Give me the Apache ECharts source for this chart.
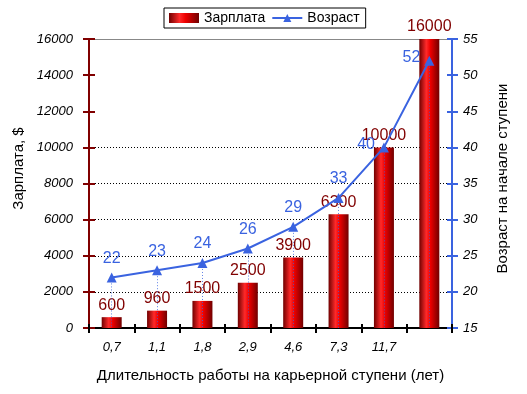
<!DOCTYPE html>
<html><head><meta charset="utf-8">
<script src="https://cdn.jsdelivr.net/npm/echarts@6/dist/echarts.min.js"></script>
<style>html,body{margin:0;padding:0;background:#fff}#c{width:527px;height:394px}</style>
</head><body><div id="c"></div>
<script>
var categories = ['0,7','1,1','1,8','2,9','4,6','7,3','11,7',''];
var salary = [600, 960, 1500, 2500, 3900, 6300, 10000, 16000];
var age = [22, 23, 24, 26, 29, 33, 40, 52];
var salaryName = 'Зарплата';
var ageName = 'Возраст';
var xTitle = 'Длительность работы на карьерной ступени (лет)';
var yLeftTitle = 'Зарплата, $';
var yRightTitle = 'Возраст на начале ступени';

var FONT = 'Liberation Sans, Arial, sans-serif';
var RED = '#800000', BLUE = '#3a63e0';
var T = 'rgba(0,0,0,0)';
var chart = echarts.init(document.getElementById('c'), null, {renderer:'canvas'});
var barGrad = new echarts.graphic.LinearGradient(0,0,1,0,[
  {offset:0,color:'#700000'},{offset:0.35,color:'#ff2a2a'},{offset:0.55,color:'#ee0000'},{offset:1,color:'#700000'}]);
var tickLabel = {fontFamily:FONT, fontStyle:'italic', fontSize:13, color:'#000', formatter:function(v){return String(v);}};
var ageData = age.map(function(v,i){
  var d = {value:v};
  if (i >= categories.length-2) d.label = {position:'left', distance:4, offset:[0,-3]};
  return d;
});
var drops = age.map(function(v,i){ return [{coord:[i,v]},{coord:[i,15]}]; });
chart.setOption({
  animation:false,
  textStyle:{fontFamily:FONT},
  legend:{
    left:164, top:8, padding:[3,6,3,5], itemGap:6, itemWidth:30, itemHeight:10,
    borderColor:'#000', borderWidth:1, borderRadius:0,
    textStyle:{fontFamily:FONT, fontSize:14, color:'#000'},
    data:[{name:salaryName, icon:'rect'},{name:ageName}]
  },
  grid:{left:89, right:75, top:39, bottom:66, containLabel:false},
  xAxis:[
    {type:'category', data:categories, position:'bottom',
     axisLine:{onZero:false, lineStyle:{color:'#000', width:2}},
     axisTick:{show:true, length:5, lineStyle:{color:'#000', width:2}},
     axisLabel:{margin:13, interval:0, fontFamily:FONT, fontStyle:'italic', fontSize:13, color:'#000'},
     name:xTitle, nameLocation:'middle', nameGap:40,
     nameTextStyle:{fontFamily:FONT, fontSize:15, color:'#000'}},
    {type:'category', data:categories, position:'bottom',
     axisLine:{show:false, onZero:false}, axisTick:{show:true, inside:true, length:4, lineStyle:{color:'#000', width:2}},
     axisLabel:{show:false}},
    {type:'category', data:categories, position:'top',
     axisLine:{show:true, onZero:false, lineStyle:{color:'#888', width:1}}, axisTick:{show:false}, axisLabel:{show:false}}
  ],
  yAxis:[
    {type:'value', min:0, max:16000, interval:2000, position:'left',
     axisLine:{show:true, lineStyle:{color:RED, width:2}},
     axisTick:{show:true, length:6, lineStyle:{color:RED, width:2}},
     axisLabel:Object.assign({margin:16}, tickLabel),
     splitLine:{show:true, lineStyle:{type:[1,2], width:1,
       color:[T,'#000','#000','#000','#000','#000',T,T]}},
     name:yLeftTitle, nameLocation:'middle', nameGap:51,
     nameTextStyle:{fontFamily:FONT, fontSize:15, color:'#000', padding:[0,0,0,30]}},
    {type:'value', min:15, max:55, interval:5, position:'right',
     axisLine:{show:true, lineStyle:{color:BLUE, width:2}},
     axisTick:{show:true, length:6, lineStyle:{color:BLUE, width:2}},
     axisLabel:Object.assign({margin:11}, tickLabel),
     splitLine:{show:false},
     name:yRightTitle, nameLocation:'middle', nameGap:43,
     nameTextStyle:{fontFamily:FONT, fontSize:15, color:'#000', padding:[0,0,0,10]}},
    {type:'value', min:0, max:16000, interval:2000, position:'left',
     axisLine:{show:false}, axisTick:{show:true, inside:true, length:6, lineStyle:{color:RED, width:2}},
     axisLabel:{show:false}, splitLine:{show:false}},
    {type:'value', min:15, max:55, interval:5, position:'right',
     axisLine:{show:false}, axisTick:{show:true, inside:true, length:5, lineStyle:{color:BLUE, width:2}},
     axisLabel:{show:false}, splitLine:{show:false}}
  ],
  series:[
    {name:salaryName, type:'bar', xAxisIndex:0, yAxisIndex:0, data:salary, barWidth:20,
     itemStyle:{color:barGrad},
     label:{show:true, position:'top', distance:4, color:RED, fontFamily:FONT, fontSize:16}},
    {name:ageName, type:'line', xAxisIndex:0, yAxisIndex:1, data:ageData,
     symbol:'triangle', symbolSize:10, z:3,
     lineStyle:{color:BLUE, width:2}, itemStyle:{color:BLUE},
     label:{show:true, position:'top', distance:6, color:BLUE, fontFamily:FONT, fontSize:16},
     markLine:{silent:true, symbol:['none','none'], label:{show:false},
       lineStyle:{color:BLUE, type:[1,2], width:1, opacity:0.8}, data:drops}}
  ]
});
</script></body></html>
